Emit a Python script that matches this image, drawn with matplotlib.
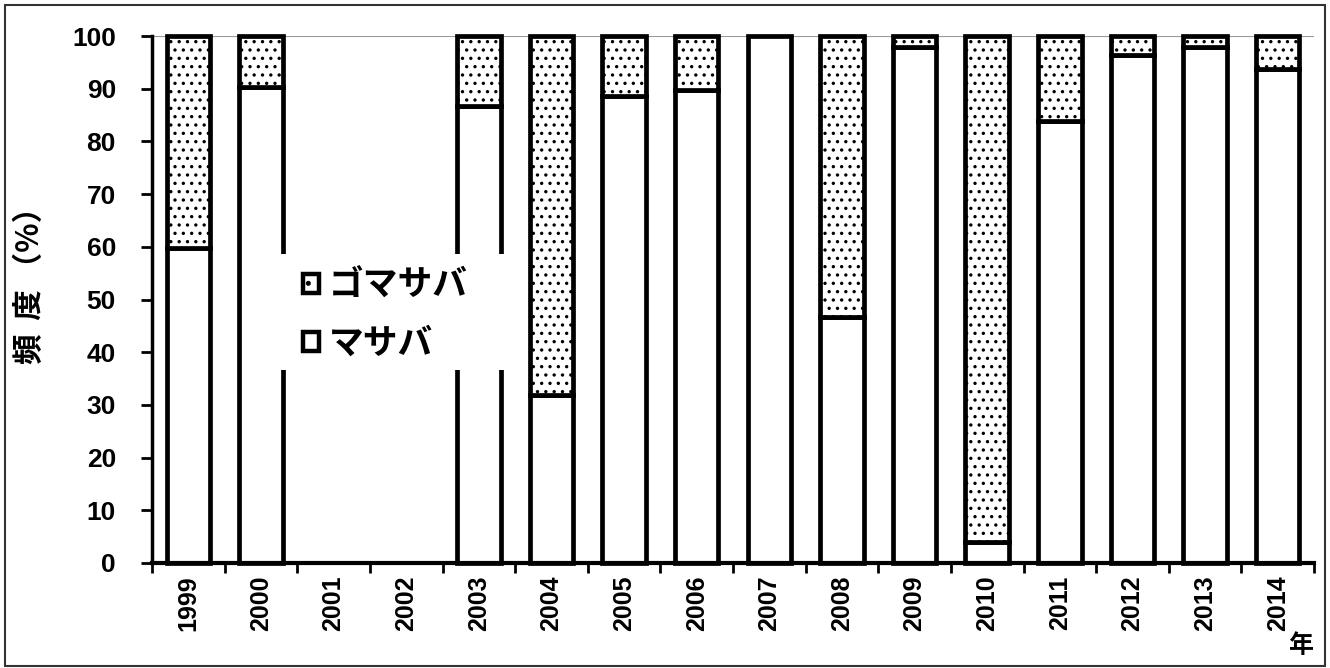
import matplotlib
matplotlib.use("Agg")
import matplotlib.pyplot as plt
from matplotlib.patches import Patch, Rectangle
import numpy as np

plt.rcParams['font.family'] = ['Liberation Sans', 'Noto Sans CJK JP', 'DejaVu Sans']
plt.rcParams['hatch.linewidth'] = 1.2

years = ['1999', '2000', '2001', '2002', '2003', '2004', '2005', '2006',
         '2007', '2008', '2009', '2010', '2011', '2012', '2013', '2014']
masaba = [59.7, 90.3, 0, 0, 86.8, 31.9, 88.6, 89.8, 100, 46.7, 97.9, 4.0, 83.9, 96.4, 97.9, 93.7]
gomasaba = [40.3, 9.7, 0, 0, 13.2, 68.1, 11.4, 10.2, 0, 53.3, 2.1, 96.0, 16.1, 3.6, 2.1, 6.3]
has_data = [True, True, False, False, True, True, True, True, True, True, True, True, True, True, True, True]
series_names = ['ゴマサバ', 'マサバ']

W, H = 1330, 668
L, R, T, B = 152, 1314, 36, 563
fig = plt.figure(figsize=(W / 100, H / 100), dpi=100)
ax = fig.add_axes([L / W, 1 - B / H, (R - L) / W, (B - T) / H])

def ax_frac(px, py):
    return (px - L) / (R - L), (B - py) / (B - T)

x = np.arange(len(years))
bw = 0.6
lw = 3.4
for i in range(len(years)):
    if not has_data[i]:
        continue
    ax.bar(x[i], masaba[i], width=bw, color='white', edgecolor='black', linewidth=lw,
           clip_on=False, zorder=2)
    if gomasaba[i] > 0:
        ax.bar(x[i], gomasaba[i], bottom=masaba[i], width=bw, color='white', edgecolor='black',
               linewidth=lw, hatch='..', clip_on=False, zorder=2)

ax.set_xlim(-0.5, len(years) - 0.5)
ax.set_ylim(0, 100)
ax.axhline(100, color='#999999', lw=0.8, zorder=1)

for s in ['top', 'right']:
    ax.spines[s].set_visible(False)
ax.spines['left'].set_linewidth(2.5)
ax.spines['bottom'].set_linewidth(3)

ax.set_yticks(np.arange(0, 101, 10))
ax.tick_params(axis='y', direction='out', length=8, width=2, labelsize=19, pad=18)
for lab in ax.get_yticklabels():
    lab.set_fontweight('bold')

ax.set_xticks(x)
ax.set_xticklabels(years, rotation=90, fontsize=18, fontweight='bold')
ax.tick_params(axis='x', which='major', length=0, pad=9)
ax.set_xticks(np.arange(-0.5, len(years), 1.0), minor=True)
ax.tick_params(axis='x', which='minor', direction='out', length=7, width=2)

fig.text(30 / W, 1 - 278 / H, '頻  度 （%）', rotation=90, ha='center', va='center',
         fontsize=22, fontweight='bold', family=['Noto Sans CJK JP', 'DejaVu Sans'])
fig.text(1301 / W, 1 - 646 / H, '年', ha='center', va='center', fontsize=18,
         fontweight='bold', family=['Noto Sans CJK JP', 'DejaVu Sans'])

# white legend background box
bx0, by0 = ax_frac(278, 370)
bx1, by1 = ax_frac(508, 254)
ax.add_patch(Rectangle((bx0, by0), bx1 - bx0, by1 - by0, transform=ax.transAxes,
                       facecolor='white', edgecolor='none', zorder=4, clip_on=False))

handles = [Patch(facecolor='white', edgecolor='black', linewidth=3.2, hatch='.'),
           Patch(facecolor='white', edgecolor='black', linewidth=3.2)]
leg = ax.legend(handles, series_names, loc='upper left',
                bbox_to_anchor=ax_frac(303, 268),
                frameon=False,
                handlelength=0.45, handleheight=0.45, handletextpad=0.3,
                labelspacing=0.65, borderpad=0, borderaxespad=0,
                prop={'family': ['Noto Sans CJK JP', 'DejaVu Sans'], 'weight': 'bold', 'size': 25})
leg.set_zorder(5)

fig.patches.append(Rectangle((5 / W, 1 - 666 / H), 1320 / W, 661 / H, transform=fig.transFigure,
                             fill=False, edgecolor='#333333', linewidth=1.5))

fig.savefig('out.png', dpi=100)
